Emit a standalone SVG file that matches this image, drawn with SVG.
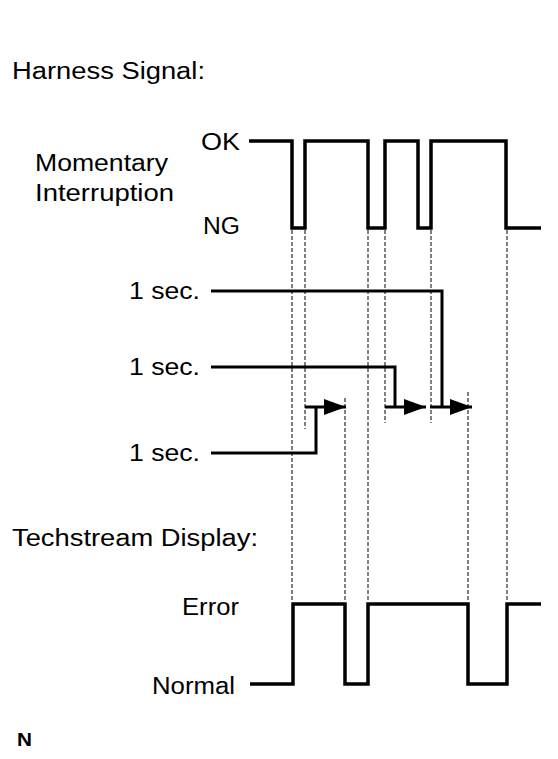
<svg xmlns="http://www.w3.org/2000/svg" width="558" height="759" viewBox="0 0 558 759">
<style>
text{font-family:"Liberation Sans",Arial,sans-serif;font-size:23px;fill:#000}
.wave{fill:none;stroke:#000;stroke-width:3.5;stroke-linejoin:miter}
.conn{fill:none;stroke:#000;stroke-width:3;stroke-linejoin:miter}
.dash{fill:none;stroke:#000;stroke-width:1;stroke-dasharray:4,2}
</style>
<defs>
<marker id="arr" markerUnits="userSpaceOnUse" markerWidth="22" markerHeight="16" refX="22" refY="8" orient="auto">
<path d="M0,0 L22,8 L0,16 Z" fill="#000"/>
</marker>
</defs>
<rect width="558" height="759" fill="#fff"/>
<g id="labels">
<text x="12" y="79" textLength="193" lengthAdjust="spacingAndGlyphs">Harness Signal:</text>
<text x="35" y="171" textLength="133" lengthAdjust="spacingAndGlyphs">Momentary</text>
<text x="35" y="201" textLength="139" lengthAdjust="spacingAndGlyphs">Interruption</text>
<text x="12" y="546" textLength="246" lengthAdjust="spacingAndGlyphs">Techstream Display:</text>
<text x="17" y="746" style="font-weight:bold;font-size:19px" textLength="15" lengthAdjust="spacingAndGlyphs">N</text>
</g>
<g id="harness-signal">
<text x="201" y="150" textLength="39" lengthAdjust="spacingAndGlyphs">OK</text>
<text x="203" y="234" textLength="37" lengthAdjust="spacingAndGlyphs">NG</text>
<path class="wave" d="M249,141 H292 V228 H305 V141 H368 V228 H385 V141 H418 V228 H431 V141 H506 V228 H541"/>
</g>
<g id="timers">
<text x="129" y="299" textLength="71" lengthAdjust="spacingAndGlyphs">1 sec.</text>
<text x="129" y="375" textLength="71" lengthAdjust="spacingAndGlyphs">1 sec.</text>
<text x="129" y="461" textLength="71" lengthAdjust="spacingAndGlyphs">1 sec.</text>
</g>
<g id="techstream-display">
<text x="182" y="615" textLength="57" lengthAdjust="spacingAndGlyphs">Error</text>
<text x="152" y="694" textLength="83" lengthAdjust="spacingAndGlyphs">Normal</text>
<path class="wave" d="M250,684 H293 V604 H345 V684 H368 V604 H468 V684 H507 V604 H541"/>
</g>
<g id="connectors">
<path class="dash" d="M292,230 V602 M305,230 V429 M368,230 V602 M385,230 V423 M431,230 V423 M507,230 V602 M345,398 V602 M468,392 V602"/>
<path class="conn" d="M211,291 H442 V407"/>
<path class="conn" d="M211,367 H395 V407"/>
<path class="conn" d="M211,453 H316 V407"/>
<path class="conn" d="M305,407 H346" marker-end="url(#arr)"/>
<path class="conn" d="M385,407 H426" marker-end="url(#arr)"/>
<path class="conn" d="M430,407 H472" marker-end="url(#arr)"/>
</g>
</svg>
